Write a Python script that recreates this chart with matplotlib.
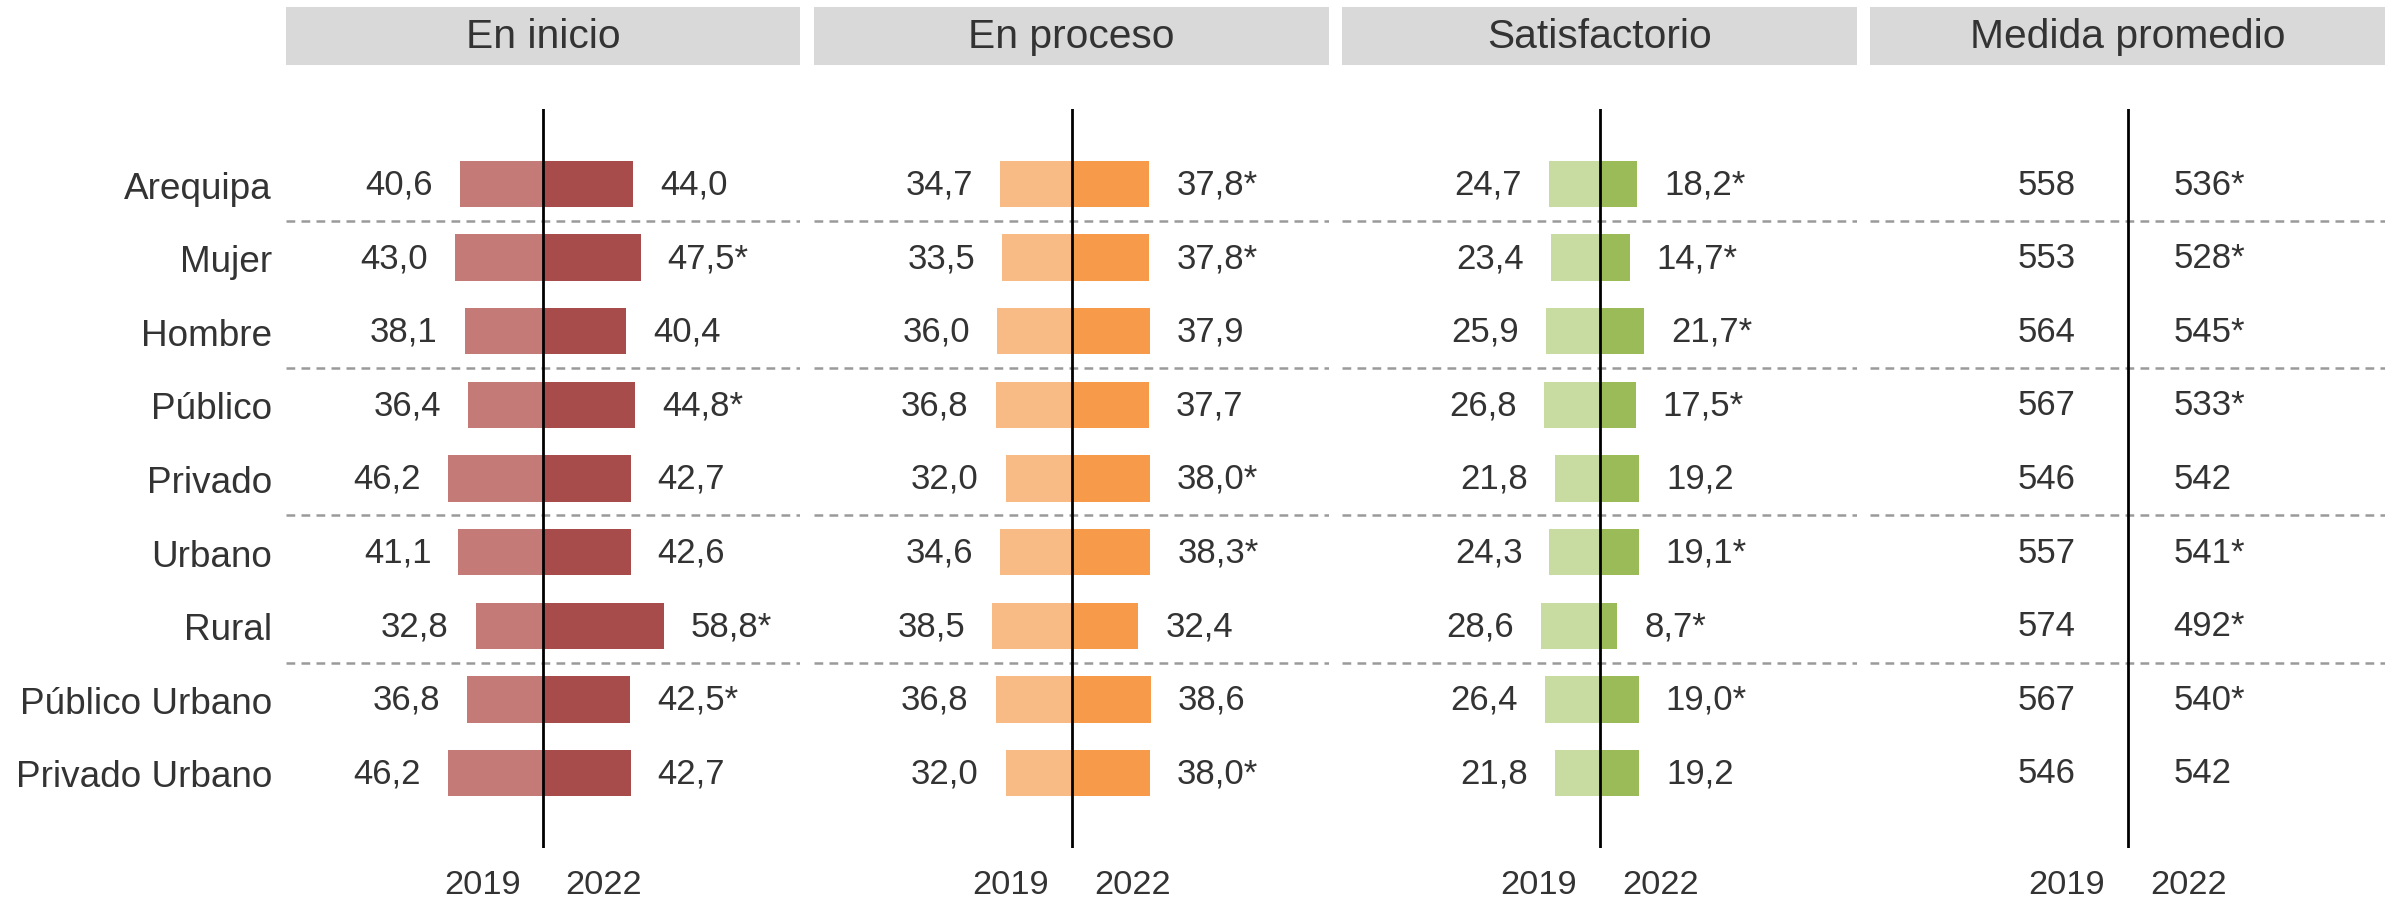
import matplotlib
matplotlib.use("Agg")
import matplotlib.pyplot as plt
from matplotlib.patches import Rectangle

plt.rcParams['font.family'] = ['Liberation Sans', 'DejaVu Sans']

groups = ['Arequipa', 'Mujer', 'Hombre', 'Público', 'Privado', 'Urbano', 'Rural',
          'Público Urbano', 'Privado Urbano']
panel_titles = ['En inicio', 'En proceso', 'Satisfactorio', 'Medida promedio']
years = ['2019', '2022']

inicio_2019 = [40.6, 43.0, 38.1, 36.4, 46.2, 41.1, 32.8, 36.8, 46.2]
inicio_2022 = [44.0, 47.5, 40.4, 44.8, 42.7, 42.6, 58.8, 42.5, 42.7]
inicio_sig = [False, True, False, True, False, False, True, True, False]

proceso_2019 = [34.7, 33.5, 36.0, 36.8, 32.0, 34.6, 38.5, 36.8, 32.0]
proceso_2022 = [37.8, 37.8, 37.9, 37.7, 38.0, 38.3, 32.4, 38.6, 38.0]
proceso_sig = [True, True, False, False, True, True, False, False, True]

satisf_2019 = [24.7, 23.4, 25.9, 26.8, 21.8, 24.3, 28.6, 26.4, 21.8]
satisf_2022 = [18.2, 14.7, 21.7, 17.5, 19.2, 19.1, 8.7, 19.0, 19.2]
satisf_sig = [True, True, True, True, False, True, True, True, False]

medida_2019 = [558, 553, 564, 567, 546, 557, 574, 567, 546]
medida_2022 = [536, 528, 545, 533, 542, 541, 492, 540, 542]
medida_sig = [True, True, True, True, False, True, True, True, False]

separators_after = [0, 2, 4, 6]

colors = [('#C47B78', '#A84C4B'), ('#F9BB86', '#F79A4A'), ('#C8DBA0', '#9BBB59')]
TXT = '#333333'

W, H = 2400, 903
DPI = 200
fig = plt.figure(figsize=(W / DPI, H / DPI), dpi=DPI)
fig.patch.set_facecolor('white')

panels_px = [(286, 800), (814, 1329), (1342, 1857), (1870, 2385)]
ax_top, ax_bot = 110, 849
hdr_top, hdr_bot = 8, 66


def fmt(v, sig, dec=1):
    s = f"{v:.{dec}f}".replace('.', ',')
    return s + ('*' if sig else '')


bar_data = [(inicio_2019, inicio_2022, inicio_sig),
            (proceso_2019, proceso_2022, proceso_sig),
            (satisf_2019, satisf_2022, satisf_sig)]

n = len(groups)
ypos = list(range(n))
for i, (x0, x1) in enumerate(panels_px):
    ax = fig.add_axes([x0 / W, 1 - ax_bot / H, (x1 - x0) / W, (ax_bot - ax_top) / H])
    ax.set_xlim(-125, 125)
    ax.set_ylim(n - 1 + 1.02, -1.02)
    for s in ax.spines.values():
        s.set_visible(False)
    ax.set_xticks([])
    if i == 0:
        ax.set_yticks(ypos)
        ax.set_yticklabels(groups, fontsize=13.3, color=TXT)
        ax.tick_params(axis='y', length=0, pad=5)
    else:
        ax.set_yticks([])

    for r in separators_after:
        ax.axhline(r + 0.5, color='#9A9A9A', lw=0.9, ls=(0, (3.5, 2.5)), zorder=1)

    if i < 3:
        v19, v22, sig = bar_data[i]
        c19, c22 = colors[i]
        ax.barh(ypos, [-v for v in v19], height=0.63, color=c19, zorder=2)
        ax.barh(ypos, v22, height=0.63, color=c22, zorder=2)
        for y, a, b, sg in zip(ypos, v19, v22, sig):
            ax.annotate(fmt(a, False), (-a, y), xytext=(-9.7, 0), textcoords='offset points',
                        ha='right', va='center', fontsize=12.5, color=TXT)
            ax.annotate(fmt(b, sg), (b, y), xytext=(9.7, 0), textcoords='offset points',
                        ha='left', va='center', fontsize=12.5, color=TXT)
    else:
        for y, a, b, sg in zip(ypos, medida_2019, medida_2022, medida_sig):
            ax.annotate(fmt(a, False, 0), (0, y), xytext=(-18.7, 0), textcoords='offset points',
                        ha='right', va='center', fontsize=12.5, color=TXT)
            ax.annotate(fmt(b, sg, 0), (0, y), xytext=(16.6, 0), textcoords='offset points',
                        ha='left', va='center', fontsize=12.5, color=TXT)

    ax.axvline(0, color='black', lw=1.0, zorder=3)

    for yr, xx in zip(years, [-29.5, 29.5]):
        ax.annotate(yr, (xx, 0), xycoords=('data', 'axes fraction'), xytext=(0, -13),
                    textcoords='offset points', ha='center', va='center',
                    fontsize=12.4, color=TXT, annotation_clip=False)

    # header strip
    fig.patches.append(Rectangle((x0 / W, 1 - hdr_bot / H), (x1 - x0) / W,
                                 (hdr_bot - hdr_top) / H, transform=fig.transFigure,
                                 facecolor='#D9D9D9', edgecolor='none'))
    fig.text((x0 + x1) / 2 / W, 1 - (hdr_top + hdr_bot) / 2 / H, panel_titles[i],
             ha='center', va='center', fontsize=14.7, color=TXT)

fig.savefig('out.png', dpi=DPI, facecolor='white')
